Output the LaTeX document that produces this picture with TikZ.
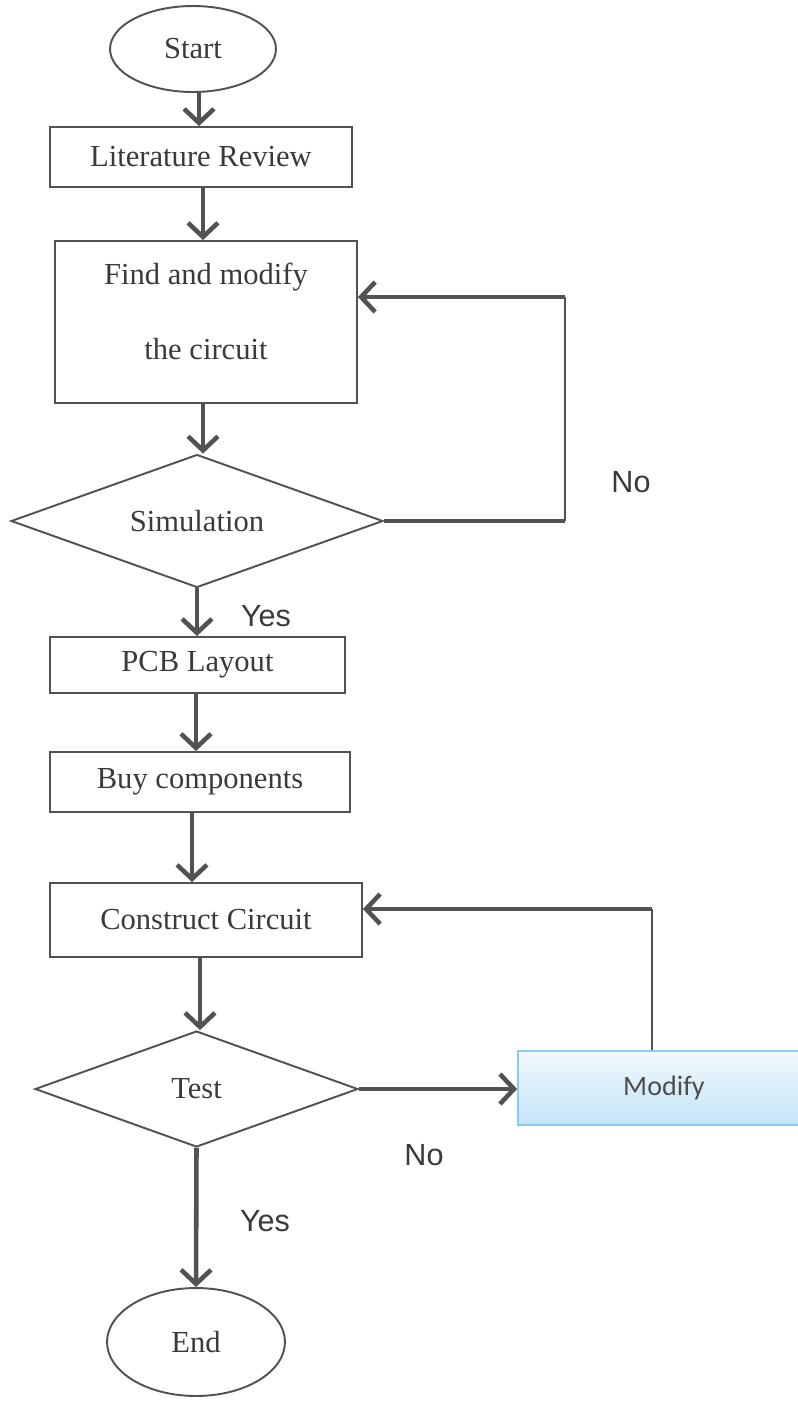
\documentclass[tikz,border=0pt]{standalone}
\usepackage{fontspec}
\setmainfont{Liberation Serif}
\setsansfont{Liberation Sans}
\newfontfamily\calfont{Carlito}
\usetikzlibrary{arrows.meta,shapes.geometric}
\definecolor{ln}{HTML}{525252}
\definecolor{tx}{HTML}{3A3A3A}
\definecolor{mdborder}{HTML}{8CCBEE}
\definecolor{mdtop}{HTML}{F2F9FD}
\definecolor{mdbot}{HTML}{C4E4F7}
\begin{document}
\begin{tikzpicture}[x=0.02cm,y=-0.02cm,
  every node/.style={text=tx, font=\fontsize{17.4}{21}\selectfont},
  stepbox/.style={draw=ln, line width=1.1pt, fill=white, rectangle, inner sep=0pt},
  terminal/.style={draw=ln, line width=1.1pt, fill=white, ellipse, inner sep=0pt},
  decision/.style={draw=ln, line width=1.1pt, fill=white, diamond, aspect=2.8, inner sep=0pt},
  flow/.style={draw=ln, line width=2.6pt, -{Straight Barb[length=8pt,width=17pt]}},
  thinline/.style={draw=ln, line width=1.3pt},
  thickline/.style={draw=ln, line width=2.6pt},
  tag/.style={font=\sffamily\fontsize{17.4}{21}\selectfont}]
\useasboundingbox (0,0) rectangle (798,1401);
\clip (0,0) rectangle (798,1401);

% process steps
\node[terminal, minimum width=3.32cm, minimum height=1.72cm] (start) at (193,49) {Start};
\node[stepbox, minimum width=6.04cm, minimum height=1.2cm] (lr) at (201,157) {Literature Review};
\node[stepbox, minimum width=6.04cm, minimum height=3.24cm, align=center] (find) at (206,322)
  {Find and modify\\[22pt]the circuit\\[-8.6pt]\mbox{}};
\node[decision, minimum width=7.44cm, minimum height=2.66cm] (sim) at (197,521) {Simulation};
\node[stepbox, minimum width=5.9cm, minimum height=1.12cm] (pcb) at (197.5,665) {PCB Layout};
\node[stepbox, minimum width=6cm, minimum height=1.2cm] (buy) at (200,782) {Buy components};
\node[stepbox, minimum width=6.24cm, minimum height=1.48cm] (cons) at (206,920) {Construct Circuit};
\node[decision, minimum width=6.46cm, minimum height=2.32cm] (test) at (196.5,1089) {Test};
\node[draw=mdborder, line width=1pt, top color=mdtop, bottom color=mdbot, inner sep=0pt,
  minimum width=5.84cm, minimum height=1.48cm, text=tx!90,
  font=\calfont\fontsize{16}{19}\selectfont] (mod) at (664,1088) {Modify};
\node[terminal, minimum width=3.56cm, minimum height=2.16cm] (end) at (196,1342) {End};

% main flow
\draw[flow] (start.south -| 199,0) -- (lr.north -| 199,0);
\draw[flow] (lr.south -| 203,0) -- (find.north -| 203,0);
\draw[flow] (find.south -| 203,0) -- (sim.north -| 203,0);
\draw[flow] (sim.south) -- (sim.south |- pcb.north);
\draw[flow] (pcb.south -| 196,0) -- (buy.north -| 196,0);
\draw[flow] (buy.south -| 192,0) -- (cons.north -| 192,0);
\draw[flow] (cons.south -| 200,0) -- (test.north -| 200,0);
\draw[flow] (test.south) -- (end.north);

% simulation loop back
\coordinate (la) at (sim.east -| 565,0);
\coordinate (lb) at (565,297);
\draw[thickline] (sim.east) -- (la);
\draw[thinline] (la) -- (lb);
\draw[flow] (lb) -- (find.east |- lb);

% test failure path
\draw[flow] (test.east) -- (mod.west |- test.east);
\coordinate (ma) at (652,909);
\draw[thinline] (mod.north -| ma) -- (ma);
\draw[flow] (ma) -- (cons.east |- ma);

% branch labels
\node[tag] (no1) at (631,482) {No};
\node[tag] (yes1) at (266,616) {Yes};
\node[tag] (no2) at (424,1155) {No};
\node[tag] (yes2) at (265,1221) {Yes};
\end{tikzpicture}
\end{document}
